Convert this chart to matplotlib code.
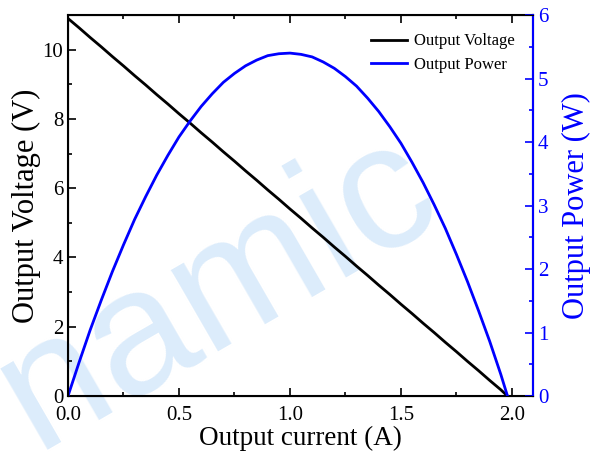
import numpy as np
import matplotlib.pyplot as plt
from matplotlib.ticker import MultipleLocator

# values
current = [0.00, 0.05, 0.10, 0.15, 0.20, 0.25, 0.30, 0.35, 0.40, 0.45,
           0.50, 0.55, 0.60, 0.65, 0.70, 0.75, 0.80, 0.85, 0.90, 0.95,
           1.00, 1.05, 1.10, 1.15, 1.20, 1.25, 1.30, 1.35, 1.40, 1.45,
           1.50, 1.55, 1.60, 1.65, 1.70, 1.75, 1.80, 1.85, 1.90, 1.95, 1.98]
voltage = [10.90, 10.63, 10.35, 10.08, 9.80, 9.53, 9.25, 8.98, 8.70, 8.43,
           8.15, 7.88, 7.60, 7.33, 7.05, 6.78, 6.50, 6.23, 5.95, 5.68,
           5.40, 5.13, 4.85, 4.58, 4.30, 4.03, 3.75, 3.48, 3.20, 2.93,
           2.65, 2.38, 2.10, 1.83, 1.55, 1.28, 1.00, 0.73, 0.45, 0.18, 0.00]
power = [0.00, 0.53, 1.04, 1.51, 1.96, 2.38, 2.78, 3.14, 3.48, 3.79,
         4.08, 4.33, 4.56, 4.76, 4.94, 5.08, 5.20, 5.29, 5.36, 5.39,
         5.40, 5.38, 5.34, 5.26, 5.16, 5.03, 4.88, 4.69, 4.48, 4.24,
         3.98, 3.68, 3.36, 3.01, 2.64, 2.23, 1.80, 1.34, 0.86, 0.34, 0.00]

plt.rcParams['font.family'] = 'Liberation Serif'

fig = plt.figure(figsize=(6.04, 4.63), dpi=100)
ax = fig.add_axes([68/604, 1-396/463, (533-68)/604, (396-15)/463])

# watermark in the background
fig.text(0.36, 0.37, 'namic', fontsize=128, color='#dcecfb', rotation=30,
         ha='center', va='center', family='Liberation Sans', zorder=-1)
ax.patch.set_alpha(0)

l1, = ax.plot(current, voltage, color='black', lw=2, label='Output Voltage')
ax.set_xlim(0, 2.095)
ax.set_ylim(0, 11)
ax.set_xticks([0, 0.5, 1.0, 1.5, 2.0])
ax.set_xticklabels(['0.0', '0.5', '1.0', '1.5', '2.0'])
ax.xaxis.set_minor_locator(MultipleLocator(0.25))
ax.yaxis.set_major_locator(MultipleLocator(2))
ax.yaxis.set_minor_locator(MultipleLocator(1))
ax.tick_params(which='both', direction='in', top=True, right=False, width=1.2)
ax.tick_params(which='major', length=6, labelsize=15)
ax.tick_params(axis='x', pad=7.5)
ax.tick_params(which='minor', length=3)
ax.set_xlabel('Output current (A)', fontsize=19.5, labelpad=0)
ax.set_ylabel('Output Voltage (V)', fontsize=22, labelpad=1)
for s in ax.spines.values():
    s.set_linewidth(1.5)

ax2 = ax.twinx()
l2, = ax2.plot(current, power, color='blue', lw=2, label='Output Power')
ax2.set_ylim(0, 6)
ax2.yaxis.set_major_locator(MultipleLocator(1))
ax2.yaxis.set_minor_locator(MultipleLocator(0.5))
ax2.tick_params(which='both', direction='in', colors='blue', width=1.2)
ax2.tick_params(which='major', length=6, labelsize=15)
ax2.tick_params(which='minor', length=3)
ax2.spines['right'].set_color('blue')
ax2.spines['right'].set_linewidth(1.5)
ax2.set_ylabel('Output Power (W)', fontsize=22, color='blue', labelpad=10)

ax.legend(handles=[l1, l2], loc='upper right', frameon=False, fontsize=12,
          handlelength=2.2, handletextpad=0.4, borderaxespad=0.7,
          labelspacing=0.45)

fig.savefig('out.png', dpi=100)
